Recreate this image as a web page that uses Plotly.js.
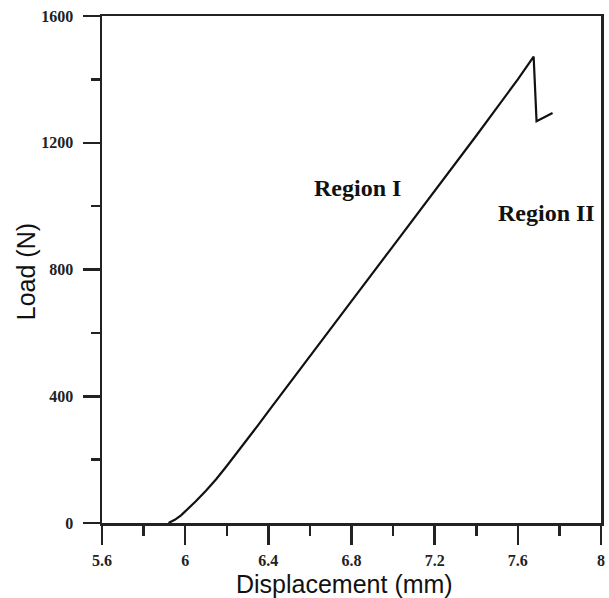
<!DOCTYPE html>
<html>
<head>
<meta charset="utf-8">
<script src="https://cdn.plot.ly/plotly-3.0.1.min.js"></script>
<style>html,body{margin:0;padding:0;background:#fff;}#chart{width:609px;height:598px;}</style>
</head>
<body>
<div id="chart"></div>
<script>
const displacement = [5.92, 5.95, 5.98, 6.01, 6.05, 6.10, 6.15, 6.20, 6.25, 6.30, 6.35, 6.40, 6.45, 6.60, 6.80, 7.00, 7.20, 7.40, 7.60, 7.676, 7.69, 7.767];
const load = [0, 10, 24, 42, 68, 102, 139, 180, 222, 265, 308, 352, 396, 526, 700, 874, 1048, 1222, 1400, 1472, 1268, 1294];
const xTicks = [5.6, 6, 6.4, 6.8, 7.2, 7.6, 8];
const xTickLabels = ['5.6', '6', '6.4', '6.8', '7.2', '7.6', '8'];
const yTicks = [0, 400, 800, 1200, 1600];
const yTickLabels = ['0', '400', '800', '1200', '1600'];
const regionLabels = ['Region I', 'Region II'];
const regionX = [6.83, 7.74];
const regionY = [1057, 978];
const xTitle = 'Displacement (mm)';
const yTitle = 'Load (N)';

const tickFont = {family: '"Liberation Serif", "Times New Roman", serif', size: 16, color: '#222', weight: 'bold'};
const titleFont = {family: '"Liberation Sans", Arial, sans-serif', size: 25, color: '#111'};

const trace = {
  x: displacement, y: load, type: 'scatter', mode: 'lines',
  line: {color: '#111', width: 2.2}, hoverinfo: 'skip', showlegend: false
};

const annotations = regionLabels.map((t, i) => ({
  x: regionX[i], y: regionY[i], xref: 'x', yref: 'y', text: '<b>' + t + '</b>', showarrow: false,
  font: {family: '"Liberation Serif", "Times New Roman", serif', size: 24, color: '#111'},
  xanchor: 'center', yanchor: 'middle'
}));
annotations.push({
  x: 0.485, y: 0, xref: 'paper', yref: 'paper', yshift: -61, text: xTitle, showarrow: false,
  font: titleFont, xanchor: 'center', yanchor: 'middle'
});
annotations.push({
  x: -0.152, y: 0.495, xref: 'paper', yref: 'paper', text: yTitle, showarrow: false, textangle: -90,
  font: titleFont, xanchor: 'center', yanchor: 'middle'
});

const layout = {
  width: 609, height: 598,
  margin: {l: 102, r: 8, t: 16, b: 75},
  paper_bgcolor: '#fff', plot_bgcolor: '#fff',
  xaxis: {
    range: [5.6, 8], tickmode: 'array', tickvals: xTicks, ticktext: xTickLabels,
    showgrid: false, zeroline: false, showline: true, mirror: true, linecolor: '#222', linewidth: 2.5,
    ticks: 'outside', ticklen: 19, tickwidth: 2.5, tickcolor: '#222',
    minor: {tickvals: [5.8, 6.2, 6.6, 7.0, 7.4, 7.8], ticks: 'outside', ticklen: 10, tickwidth: 2.5, tickcolor: '#222'},
    tickfont: tickFont, ticklabelstandoff: 2
  },
  yaxis: {
    range: [0, 1600], tickmode: 'array', tickvals: yTicks, ticktext: yTickLabels,
    showgrid: false, zeroline: false, showline: true, mirror: true, linecolor: '#222', linewidth: 2.5,
    ticks: 'outside', ticklen: 17, tickwidth: 2.5, tickcolor: '#222',
    minor: {tickvals: [200, 600, 1000, 1400], ticks: 'outside', ticklen: 9, tickwidth: 2.5, tickcolor: '#222'},
    tickfont: tickFont, ticklabelstandoff: 6
  },
  annotations: annotations
};

Plotly.newPlot('chart', [trace], layout, {staticPlot: true, displayModeBar: false});
</script>
</body>
</html>
